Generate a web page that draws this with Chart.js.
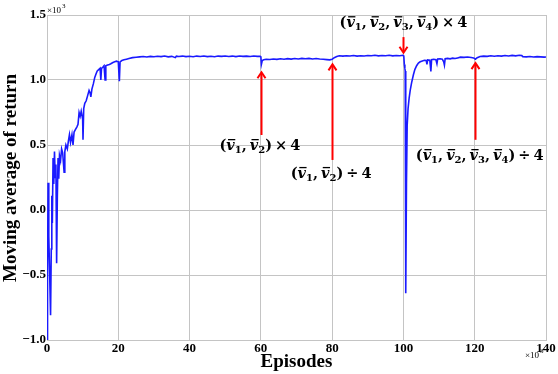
<!DOCTYPE html>
<html><head><meta charset="utf-8">
<script src="https://cdn.jsdelivr.net/npm/chart.js@4"></script>
<style>html,body{margin:0;padding:0;background:#fff;}canvas{display:block;}</style>
</head><body>
<canvas id="c" width="558" height="374"></canvas>
<script>
// Episodes (x 10^3)
const episodes = [
0,0.15,0.3,0.5,0.75,1.0,1.2,1.35,1.5,1.7,1.9,2.1,2.3,2.5,2.7,2.9,3.1,3.3,3.5,3.8,4.1,4.4,4.8,5.0,5.3,5.7,6.0,6.3,6.6,7.0,7.3,7.6,8.0,8.4,8.7,9.0,9.3,9.6,10.0,10.1,10.3,10.6,11.0,11.4,11.8,12.1,12.3,12.6,13.0,13.4,13.8,14.1,14.5,14.9,15.1,15.3,15.7,16.0,16.3,16.5,17.0,17.5,17.9,18.5,19.0,19.5,20.0,20.3,20.5,21.0,21.6,22.3,23.0,24.0,25.0,
26,27,28,29,30,31,32,33,34,35,36,36.3,37,38,39,40,41,42,43,44,45,46,47,48,49,50,51,52,53,54,55,56,57,58,59,59.8,
60.0,60.15,60.4,60.8,61.5,62.5,63.5,64.5,65.5,66.5,67.5,68.5,69.5,70.5,71.5,72.5,73.5,74.5,75.5,76.5,77.5,78.5,79.3,80,80.6,81.3,82,83,84,85,86,87,88,89,90,91,92,93,94,95,96,97,98,99,99.8,
100.1,100.25,100.4,100.5,100.65,100.85,101.05,101.3,101.6,101.9,102.3,102.8,103.2,103.7,104.2,104.7,105.3,105.9,106.4,106.6,106.8,107.4,107.7,107.9,108.5,109.1,109.4,109.6,110.3,110.9,111.3,111.5,111.7,112.4,113.1,113.8,114.5,115.2,116,117,118,119,119.7,120.2,120.7,121.5,122.5,123.5,124.5,125.5,126.5,127.5,128.5,129.5,130.5,131.5,132.5,133.2,133.5,134.5,135.5,136.5,137.5,138.5,139.5,140
];
// Moving average of return (x 10^3)
const avgReturn = [
-1.0,-0.5,0.21,-0.2,-0.5,-0.81,-0.3,0.11,-0.1,0.4,0.2,0.45,0.25,0.35,-0.41,0.1,0.4,0.24,0.42,0.38,0.47,0.44,0.29,0.45,0.5,0.47,0.53,0.58,0.52,0.58,0.5,0.6,0.62,0.64,0.66,0.75,0.72,0.76,0.7,0.54,0.78,0.82,0.84,0.88,0.92,0.9,0.87,0.93,0.97,1.02,1.05,1.07,1.08,1.09,1.0,1.09,1.1,1.11,1.0,1.11,1.115,1.12,1.125,1.135,1.14,1.145,1.14,0.99,1.14,1.15,1.155,1.16,1.165,1.172,1.175,
1.178,1.181,1.177,1.182,1.179,1.183,1.18,1.184,1.178,1.182,1.172,1.183,1.181,1.184,1.18,1.183,1.179,1.184,1.181,1.185,1.18,1.183,1.179,1.184,1.182,1.185,1.181,1.184,1.18,1.185,1.182,1.184,1.181,1.185,1.182,1.183,
1.18,1.12,1.15,1.155,1.16,1.158,1.162,1.159,1.163,1.16,1.164,1.161,1.165,1.162,1.166,1.163,1.166,1.162,1.165,1.162,1.16,1.157,1.155,1.16,1.172,1.18,1.186,1.184,1.187,1.185,1.188,1.184,1.187,1.185,1.188,1.186,1.19,1.186,1.189,1.187,1.19,1.186,1.189,1.187,1.19,
1.185,1.12,1.09,1.07,-0.64,0.2,0.65,0.78,0.86,0.92,0.98,1.04,1.08,1.11,1.13,1.14,1.147,1.152,1.15,1.12,1.155,1.153,1.065,1.156,1.16,1.157,1.125,1.161,1.163,1.16,1.14,1.115,1.163,1.166,1.163,1.168,1.165,1.17,1.176,1.174,1.177,1.173,1.17,1.16,1.172,1.181,1.184,1.182,1.186,1.183,1.187,1.184,1.188,1.185,1.189,1.186,1.19,1.188,1.18,1.178,1.181,1.177,1.18,1.178,1.176,1.177
];
const xTicks = [0,20,40,60,80,100,120,140];
const yTicks = [-1.0,-0.5,0.0,0.5,1.0,1.5];

// Annotations (data coordinates)
const annotX     = [60, 80, 100, 120];
const arrowTail  = [0.577, 0.385, 1.33, 0.54];
const arrowHead  = [1.06, 1.12, 1.21, 1.13];
const labelText  = ["(v1, v2) × 4", "(v1, v2) ÷ 4", "(v1, v2, v3, v4) × 4", "(v1, v2, v3, v4) ÷ 4"];
const labelY     = [0.5, 0.285, 1.445, 0.423];
const labelDX    = [-1, -1, 0, 5];

const MATHFONT = '"DejaVu Serif"';
function mathSegments(s){
  const segs=[];
  for(let i=0;i<s.length;i++){
    const c=s[i];
    if(c==='v'){ segs.push({t:'v',k:'v'}); }
    else if(/[0-9]/.test(c) && i>0 && s[i-1]==='v'){ segs.push({t:c,k:'sub'}); }
    else segs.push({t:c,k:'n'});
  }
  return segs;
}
function fontFor(k,size){
  if(k==='v') return 'italic bold '+size+'px '+MATHFONT;
  if(k==='sub') return 'bold '+Math.round(size*0.72)+'px '+MATHFONT;
  return 'bold '+size+'px '+MATHFONT;
}
function drawMath(ctx,s,cx,cy,size){
  const segs=mathSegments(s);
  let w=0;
  segs.forEach(g=>{ctx.font=fontFor(g.k,size); g.w=ctx.measureText(g.t).width; if(g.t===' ') g.w*=0.6; w+=g.w;});
  let x=cx-w/2;
  const base=cy+size*0.35;
  ctx.fillStyle='#000'; ctx.textAlign='left'; ctx.textBaseline='alphabetic';
  segs.forEach(g=>{
    ctx.font=fontFor(g.k,size);
    if(g.k==='sub'){ ctx.fillText(g.t,x,base+size*0.22); }
    else { ctx.fillText(g.t,x,base); }
    if(g.k==='v'){
      ctx.save(); ctx.strokeStyle='#000'; ctx.lineWidth=1.3;
      ctx.beginPath(); ctx.moveTo(x+size*0.12,base-size*0.72); ctx.lineTo(x+g.w+size*0.04,base-size*0.72); ctx.stroke(); ctx.restore();
    }
    x+=g.w;
  });
}

const overlay = {
  id:'overlay',
  afterDraw(chart){
    const ctx=chart.ctx, xs=chart.scales.x, ys=chart.scales.y;
    ctx.save();
    ctx.strokeStyle='#ff0000'; ctx.lineWidth=2;
    for(let i=0;i<annotX.length;i++){
      const px=Math.round(xs.getPixelForValue(annotX[i]))+0.5;
      const y0=ys.getPixelForValue(arrowTail[i]), y1=ys.getPixelForValue(arrowHead[i]);
      const dir = y1<y0 ? 1 : -1;
      ctx.beginPath(); ctx.moveTo(px,y0); ctx.lineTo(px,y1+dir*1); ctx.stroke();
      ctx.beginPath(); ctx.moveTo(px-4,y1+dir*6); ctx.lineTo(px,y1); ctx.lineTo(px+4,y1+dir*6); ctx.stroke();
    }
    for(let i=0;i<annotX.length;i++){
      drawMath(ctx,labelText[i],xs.getPixelForValue(annotX[i])+labelDX[i],ys.getPixelForValue(labelY[i]),14.5);
    }
    ctx.fillStyle='#000';
    ctx.font='bold 19px "Liberation Serif"';
    ctx.textAlign='center'; ctx.textBaseline='alphabetic';
    ctx.fillText('Episodes',(chart.chartArea.left+chart.chartArea.right)/2,367);
    ctx.save(); ctx.translate(16,178); ctx.rotate(-Math.PI/2);
    ctx.fillText('Moving average of return',0,0); ctx.restore();
    ctx.textAlign='left';
    ctx.font='9px "Liberation Serif"';
    ctx.fillText('×10',47,13);
    ctx.font='7px "Liberation Serif"';
    ctx.fillText('3',62,8);
    ctx.font='9px "Liberation Serif"';
    ctx.fillText('×10',525,358);
    ctx.font='7px "Liberation Serif"';
    ctx.fillText('3',540,353);
    ctx.restore();
  }
};

const pts = episodes.map((e,i)=>({x:e,y:avgReturn[i]}));
const gridColor='#c4c4c4';
new Chart(document.getElementById('c'),{
  type:'line',
  data:{datasets:[{data:pts,borderColor:'#1a1aff',borderWidth:1.6,pointRadius:0,tension:0,fill:false}]},
  options:{
    responsive:false, animation:false, devicePixelRatio:1,
    layout:{padding:{top:15,right:12,left:0,bottom:0}},
    plugins:{legend:{display:false},tooltip:{enabled:false}},
    scales:{
      x:{type:'linear',min:0,max:140,
        afterBuildTicks(s){s.ticks=xTicks.map(v=>({value:v}));},
        afterFit(s){s.height=34;},
        grid:{color:gridColor,drawTicks:false,tickLength:0},
        border:{color:gridColor},
        ticks:{padding:1,color:'#000',font:{family:'"Liberation Serif"',weight:'bold',size:13},maxRotation:0,
          callback:v=>String(v)}},
      y:{type:'linear',min:-1,max:1.5,
        afterBuildTicks(s){s.ticks=yTicks.map(v=>({value:v}));},
        afterFit(s){s.width=47;},
        grid:{color:gridColor,drawTicks:false,tickLength:0},
        border:{color:gridColor},
        ticks:{padding:1,color:'#000',font:{family:'"Liberation Serif"',weight:'bold',size:13},
          callback:v=>v.toFixed(1).replace('-','−')}}
    }
  },
  plugins:[overlay]
});
</script>
</body></html>
